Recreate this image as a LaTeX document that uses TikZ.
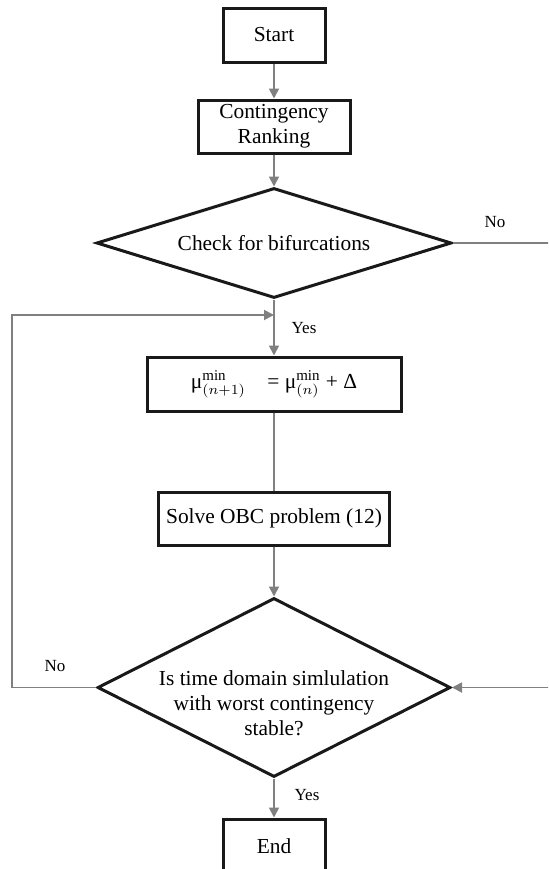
\documentclass[tikz,border=0pt]{standalone}
\usepackage{fontspec}
\setmainfont{Liberation Serif}
\usetikzlibrary{shapes.geometric,arrows.meta}

\begin{document}
\begin{tikzpicture}[x=0.5pt, y=-0.5pt, font=\fontsize{10.7}{12.5}\selectfont,
  block/.style={draw=black!90, line width=1.5pt, inner sep=0pt, align=center},
  decision/.style={draw=black!90, line width=1.5pt, diamond, aspect=3.2, inner sep=0pt},
  flow/.style={draw=gray, line width=0.9pt},
  flowarrow/.style={flow, -{Triangle[length=5pt,width=5pt]}},
  tag/.style={font=\fontsize{8.5}{10}\selectfont}]

  \useasboundingbox (0,0) rectangle (548,869);
  \clip (0,0) rectangle (548,869);

  \node[block, minimum width=51pt, minimum height=27pt] (start) at (274,35) {Start};
  \node[block, minimum width=76pt, minimum height=26.5pt] (rank) at (274,126.5) {Contingency\\Ranking};
  \node[block, minimum width=177.5pt, minimum height=55pt, decision] (bif) at (274,243) {Check for bifurcations};
  \node[block, minimum width=127pt, minimum height=27pt] (update) at (274,384)
    {μ$^{\mathrm{min}}_{(n+1)}$\quad = μ$^{\mathrm{min}}_{(n)}$ + Δ};
  \node[block, minimum width=115.5pt, minimum height=26.5pt] (solve) at (274,518.5) {Solve OBC problem (12)};
  \node[decision, minimum width=176.5pt, minimum height=89.5pt] (stable) at (274,687.5) {};
  \node[align=center] (stabletext) at (274,703) {Is time domain simlulation\\with worst contingency\\stable?};
  \node[block, minimum width=51pt, minimum height=27pt] (finish) at (274,846) {End};

  \coordinate (merge) at (274,315);
  \coordinate (leftrail) at (12,687.5);
  \coordinate (rightrail) at (558,243);

  \draw[flowarrow] (start) -- (rank);
  \draw[flowarrow] (rank) -- (bif);
  \draw[flowarrow] (bif) -- (update);
  \draw[flow] (update) -- (solve);
  \draw[flowarrow] (solve) -- (stable);
  \draw[flowarrow] (stable) -- (finish);
  \draw[flowarrow] (stable.west) -- (leftrail) |- (merge);
  \draw[flowarrow] (bif.east) -- (rightrail) |- (stable.east);

  \node[tag] (nobif) at (495,222) {No};
  \node[tag] (yesbif) at (304,328) {Yes};
  \node[tag] (nostable) at (55,666) {No};
  \node[tag] (yesstable) at (307,795) {Yes};
\end{tikzpicture}
\end{document}
